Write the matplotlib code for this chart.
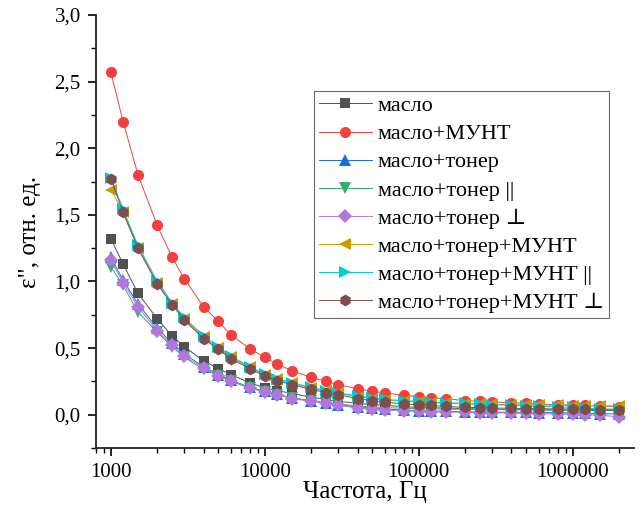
import matplotlib
matplotlib.use("Agg")
import matplotlib.pyplot as plt
from matplotlib.ticker import MultipleLocator, FixedLocator, LogLocator, NullFormatter, FuncFormatter

plt.rcParams['font.family'] = ['Liberation Serif', 'DejaVu Serif']

freq = [1e3, 1.2e3, 1.5e3, 2e3, 2.5e3, 3e3, 4e3, 5e3, 6e3, 8e3,
        1e4, 1.2e4, 1.5e4, 2e4, 2.5e4, 3e4, 4e4, 5e4, 6e4, 8e4,
        1e5, 1.2e5, 1.5e5, 2e5, 2.5e5, 3e5, 4e5, 5e5, 6e5, 8e5,
        1e6, 1.2e6, 1.5e6, 2e6]

oil = [1.32, 1.13, 0.91, 0.72, 0.59, 0.51, 0.405, 0.345, 0.30, 0.24,
       0.20, 0.18, 0.16, 0.13, 0.115, 0.10, 0.085, 0.075, 0.07, 0.06,
       0.055, 0.052, 0.05, 0.045, 0.043, 0.042, 0.04, 0.038, 0.037, 0.035,
       0.034, 0.033, 0.032, 0.03]
oil_cnt = [2.57, 2.20, 1.80, 1.42, 1.18, 1.02, 0.81, 0.70, 0.60, 0.495,
           0.43, 0.38, 0.33, 0.28, 0.25, 0.225, 0.195, 0.175, 0.165, 0.145,
           0.135, 0.125, 0.12, 0.105, 0.10, 0.095, 0.09, 0.085, 0.08, 0.075,
           0.072, 0.07, 0.065, 0.06]
oil_ton = [1.18, 1.01, 0.83, 0.65, 0.535, 0.455, 0.36, 0.30, 0.26, 0.205,
           0.175, 0.155, 0.125, 0.105, 0.09, 0.075, 0.058, 0.048, 0.042, 0.035,
           0.03, 0.028, 0.025, 0.022, 0.02, 0.019, 0.018, 0.017, 0.016, 0.015,
           0.012, 0.01, 0.008, 0.005]
oil_ton_par = [1.11, 0.97, 0.77, 0.62, 0.51, 0.43, 0.34, 0.29, 0.25, 0.20,
               0.17, 0.15, 0.125, 0.105, 0.09, 0.08, 0.065, 0.058, 0.053, 0.048,
               0.045, 0.043, 0.042, 0.04, 0.039, 0.038, 0.037, 0.036, 0.035, 0.035,
               0.034, 0.033, 0.032, 0.03]
oil_ton_perp = [1.16, 0.99, 0.81, 0.63, 0.52, 0.44, 0.35, 0.29, 0.255, 0.20,
                0.17, 0.15, 0.12, 0.10, 0.085, 0.07, 0.05, 0.04, 0.035, 0.028,
                0.025, 0.022, 0.02, 0.018, 0.016, 0.014, 0.012, 0.01, 0.008, 0.005,
                0.002, 0.0, -0.005, -0.015]
oil_ton_cnt = [1.69, 1.52, 1.25, 0.99, 0.83, 0.72, 0.58, 0.50, 0.43, 0.355,
               0.30, 0.265, 0.235, 0.20, 0.175, 0.16, 0.135, 0.12, 0.11, 0.10,
               0.095, 0.09, 0.085, 0.08, 0.078, 0.077, 0.075, 0.073, 0.072, 0.07,
               0.068, 0.067, 0.066, 0.065]
oil_ton_cnt_par = [1.78, 1.54, 1.27, 1.00, 0.84, 0.73, 0.59, 0.51, 0.44, 0.36,
                   0.305, 0.27, 0.24, 0.205, 0.18, 0.165, 0.14, 0.125, 0.115, 0.105,
                   0.10, 0.095, 0.09, 0.085, 0.08, 0.075, 0.07, 0.066, 0.062, 0.058,
                   0.055, 0.05, 0.045, 0.04]
oil_ton_cnt_perp = [1.77, 1.52, 1.25, 0.98, 0.825, 0.71, 0.57, 0.49, 0.42, 0.345,
                    0.29, 0.255, 0.225, 0.19, 0.165, 0.15, 0.12, 0.105, 0.095, 0.08,
                    0.075, 0.07, 0.062, 0.055, 0.053, 0.05, 0.048, 0.046, 0.045, 0.043,
                    0.042, 0.04, 0.038, 0.035]

labels = ["масло", "масло+МУНТ", "масло+тонер", "масло+тонер ||",
          "масло+тонер ⊥", "масло+тонер+МУНТ", "масло+тонер+МУНТ ||",
          "масло+тонер+МУНТ ⊥"]
series = [oil, oil_cnt, oil_ton, oil_ton_par, oil_ton_perp,
          oil_ton_cnt, oil_ton_cnt_par, oil_ton_cnt_perp]
colors = ["#515151", "#F14040", "#1A6FDF", "#37AD6B", "#B177DE",
          "#CC9900", "#00CBCC", "#7D4E4E"]
markers = ["s", "o", "^", "v", "D", "<", ">", "h"]
msizes = [7, 8, 8, 8, 7, 8, 8, 8.5]

fig = plt.figure(figsize=(6.42, 5.22), dpi=100)
ax = fig.add_axes([0.1495, 0.1418, 0.838, 0.8295])

for y, lab, c, m, ms in zip(series, labels, colors, markers, msizes):
    ax.plot(freq, y, color=c, lw=0.7, marker=m, markersize=ms,
            markeredgewidth=0, label=lab)

ax.set_xscale('log')
ax.set_xlim(800, 2.5e6)
ax.set_ylim(-0.25, 3.0)
ax.xaxis.set_major_locator(FixedLocator([1e3, 1e4, 1e5, 1e6]))
ax.xaxis.set_major_formatter(FuncFormatter(lambda v, p: "%d" % v))
ax.xaxis.set_minor_locator(LogLocator(base=10, subs=range(2, 10)))
ax.xaxis.set_minor_formatter(NullFormatter())
ax.yaxis.set_major_locator(MultipleLocator(0.5))
ax.yaxis.set_minor_locator(MultipleLocator(0.25))
ax.yaxis.set_major_formatter(FuncFormatter(lambda v, p: ("%.1f" % v).replace('.', ',')))

for s in ['top', 'right']:
    ax.spines[s].set_visible(False)
for s in ['left', 'bottom']:
    ax.spines[s].set_linewidth(1.3)
    ax.spines[s].set_color('#222222')

ax.tick_params(which='major', direction='out', length=6, width=1.2, labelsize=15, pad=5)
ax.tick_params(axis='x', which='major', pad=5)
ax.tick_params(which='minor', direction='out', length=3.5, width=1.0)

ax.set_xlabel("Частота, Гц", fontsize=18, labelpad=-1)
ax.set_ylabel("ε\", отн. ед.", fontsize=18, labelpad=10)

leg = ax.legend(loc='upper left', bbox_to_anchor=(0.405, 0.825), borderaxespad=0,
                fontsize=16, frameon=True, fancybox=False, edgecolor='#444444',
                handlelength=2.4, handletextpad=0.25, labelspacing=0.34,
                borderpad=0.22)
leg.get_frame().set_linewidth(0.8)

fig.savefig("out.png", dpi=100)
